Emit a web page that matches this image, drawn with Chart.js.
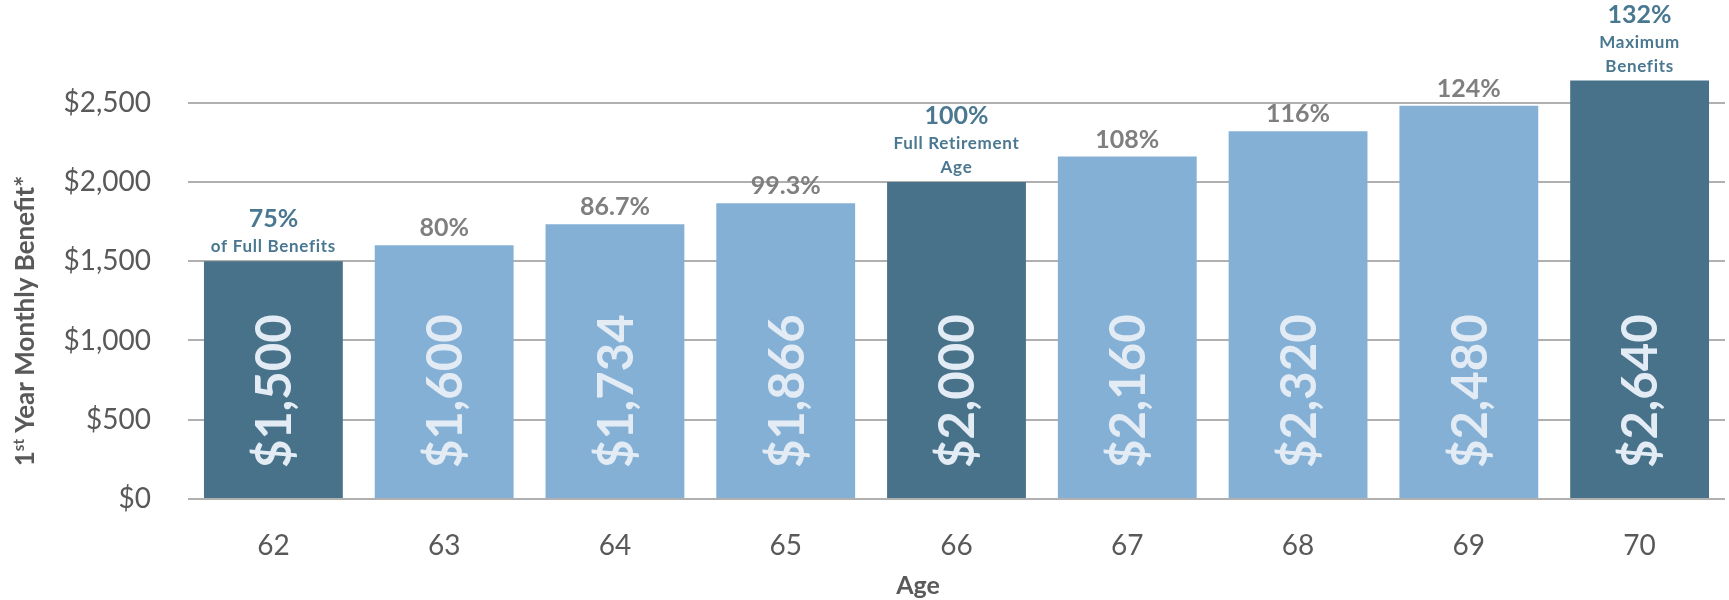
<!DOCTYPE html>
<html>
<head>
<meta charset="utf-8">
<script src="https://cdn.jsdelivr.net/npm/chart.js@4"></script>
<style>
  html, body { margin: 0; padding: 0; background: #fff; }
  canvas { display: block; }
</style>
</head>
<body>
<canvas id="benefitChart" width="1729" height="600"></canvas>
<script>
// Monthly benefit by claiming age
const ages = ["62", "63", "64", "65", "66", "67", "68", "69", "70"];
const benefits = [1500, 1600, 1734, 1866, 2000, 2160, 2320, 2480, 2640];
const pctLabels = ["75%", "80%", "86.7%", "99.3%", "100%", "108%", "116%", "124%", "132%"];
const notes = [["of Full Benefits"], [], [], [], ["Full Retirement", "Age"], [], [], [], ["Maximum", "Benefits"]];
const highlighted = [true, false, false, false, true, false, false, false, true];
const yTicks = [0, 500, 1000, 1500, 2000, 2500];

const DARK = "#47728A";
const LIGHT = "#85B0D5";
const FONT = "Lato, 'Noto Sans', sans-serif";

// labels above / inside the bars, zero line on top, axis titles
const labelPlugin = {
  id: "labels",
  afterDatasetsDraw(chart) {
    const ctx = chart.ctx;
    const meta = chart.getDatasetMeta(0);
    const y = chart.scales.y;
    const base = y.getPixelForValue(0);

    ctx.save();
    ctx.strokeStyle = "#B0B0B0";
    ctx.lineWidth = 2;
    ctx.beginPath();
    ctx.moveTo(chart.chartArea.left, base);
    ctx.lineTo(chart.chartArea.right, base);
    ctx.stroke();

    meta.data.forEach((bar, i) => {
      // value inside the bar, rotated
      ctx.save();
      ctx.translate(bar.x, base - 31);
      ctx.rotate(-Math.PI / 2);
      ctx.font = "bold 49px " + FONT;
      ctx.fillStyle = "#E3ECF5";
      ctx.textAlign = "left";
      ctx.textBaseline = "middle";
      ctx.fillText("$" + benefits[i].toLocaleString("en-US"), 0, 2);
      ctx.restore();

      // percent + note above the bar
      ctx.textAlign = "center";
      ctx.textBaseline = "alphabetic";
      const lines = notes[i];
      let yy = bar.y - 9;
      ctx.fillStyle = highlighted[i] ? "#4A7890" : "#7F7F7F";
      ctx.font = "bold 17px " + FONT;
      ctx.letterSpacing = "0.7px";
      for (let k = lines.length - 1; k >= 0; k--) {
        ctx.fillText(lines[k], bar.x, yy);
        yy -= 24;
      }
      ctx.letterSpacing = "0px";
      if (lines.length) yy -= 1;
      ctx.font = "bold 25px " + FONT;
      ctx.fillText(pctLabels[i], bar.x, yy);
    });
    ctx.restore();
  },
  afterDraw(chart) {
    const ctx = chart.ctx;
    ctx.save();
    ctx.fillStyle = "#595959";
    // y title with superscript
    ctx.translate(26, 321);
    ctx.rotate(-Math.PI / 2);
    ctx.textBaseline = "middle";
    ctx.textAlign = "left";
    const big = "bold 26px " + FONT;
    const small = "bold 15px " + FONT;
    ctx.font = big;
    const w1 = ctx.measureText("1").width;
    const rest = " Year Monthly Benefit*";
    const w3 = ctx.measureText(rest).width;
    ctx.font = small;
    const w2 = ctx.measureText("st").width;
    let x = -(w1 + w2 + w3) / 2;
    ctx.font = big;
    ctx.fillText("1", x, 0);
    x += w1;
    ctx.font = small;
    ctx.fillText("st", x, -7);
    x += w2;
    ctx.font = big;
    ctx.fillText(rest, x, 0);
    ctx.restore();

    ctx.save();
    ctx.fillStyle = "#595959";
    ctx.font = "bold 25px " + FONT;
    ctx.textAlign = "center";
    ctx.textBaseline = "middle";
    ctx.fillText("Age", 918, 586);
    ctx.restore();
  }
};

new Chart(document.getElementById("benefitChart"), {
  type: "bar",
  data: {
    labels: ages,
    datasets: [
      {
        data: benefits,
        backgroundColor: highlighted.map((h) => (h ? DARK : LIGHT)),
        borderWidth: 0,
        barPercentage: 0.813,
        categoryPercentage: 1.0,
      },
    ],
  },
  options: {
    responsive: false,
    devicePixelRatio: 1,
    animation: false,
    layout: { padding: { left: 0, right: 4, top: 71, bottom: 0 } },
    plugins: {
      legend: { display: false },
      tooltip: { enabled: false },
    },
    scales: {
      x: {
        grid: { display: false },
        border: { display: false },
        ticks: {
          color: "#595959",
          font: { family: FONT, size: 28 },
          padding: 22,
        },
        afterFit(scale) {
          scale.height = 101;
        },
      },
      y: {
        min: 0,
        max: 2700,
        grid: { color: "#B0B0B0", lineWidth: 2, drawTicks: false },
        border: { display: false },
        ticks: {
          color: "#595959",
          font: { family: FONT, size: 28 },
          padding: 37,
          callback: (v) => "$" + v.toLocaleString("en-US"),
        },
        afterBuildTicks(scale) {
          scale.ticks = yTicks.map((v) => ({ value: v }));
        },
        afterFit(scale) {
          scale.width = 188;
        },
      },
    },
  },
  plugins: [labelPlugin],
});
</script>
</body>
</html>
